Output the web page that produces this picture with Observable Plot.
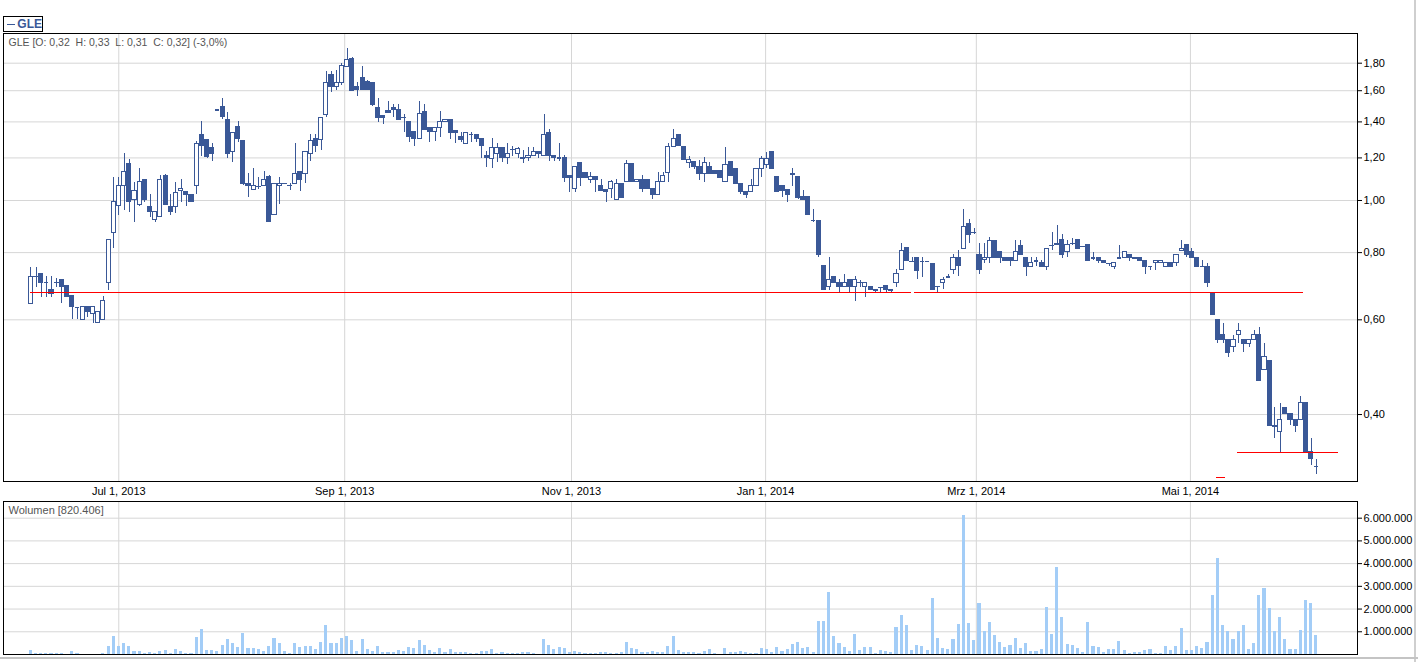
<!DOCTYPE html>
<html>
<head>
<meta charset="utf-8">
<script src="https://cdn.jsdelivr.net/npm/d3@7"></script>
<script src="https://cdn.jsdelivr.net/npm/@observablehq/plot@0.6"></script>
<style>
html, body { margin: 0; padding: 0; background: #fff; }
#root { position: relative; width: 1418px; height: 662px; overflow: hidden; font-family: "Liberation Sans", Arial, sans-serif; }
#price { position: absolute; left: 0; top: 0; }
#volume { position: absolute; left: 0; top: 498px; }
#legend { position: absolute; left: 3px; top: 16px; width: 38px; height: 14px; border: 1px solid #000; background: #fff;
  display: flex; align-items: center; font-weight: bold; font-size: 12px; color: #3a5897; }
#legend .ln { display: inline-block; width: 11px; height: 0; border-top: 1.5px solid #3a5897; margin: 0 2px 0 3px; }
#edgeR { position: absolute; left: 1414px; top: 0; width: 2px; height: 662px; background: #cfcfcf; }
#edgeB { position: absolute; left: 0; top: 657px; width: 1418px; height: 2px; background: #c4c4c4; }
svg { display: block; }
</style>
</head>
<body>
<div id="root">
  <div id="price"></div>
  <div id="volume"></div>
  <div id="legend"><span class="ln"></span><span id="legendText"></span></div>
  <div id="edgeR"></div>
  <div id="edgeB"></div>
</div>
<script>
// ---- data (one entry per trading day, Jun 2013 - Jun 2014) ----
const ticker = "GLE";
const open = [0.643,0.722,0.730,0.704,0.682,0.704,0.712,0.692,0.663,0.633,0.600,0.633,0.614,0.591,0.600,0.702,0.871,0.975,1.065,1.167,1.003,0.982,1.093,0.973,0.921,0.933,1.112,0.973,0.973,1.043,1.035,1.025,1.065,1.326,1.293,1.253,1.473,1.495,1.413,1.233,1.372,1.288,1.074,1.044,1.063,1.063,1.104,0.939,1.065,1.077,1.065,1.074,1.131,1.121,1.221,1.302,1.293,1.444,1.708,1.629,1.653,1.770,1.834,1.629,1.693,1.658,1.653,1.483,1.433,1.464,1.483,1.476,1.426,1.397,1.343,1.302,1.458,1.364,1.339,1.364,1.397,1.413,1.349,1.314,1.275,1.325,1.325,1.302,1.212,1.193,1.221,1.253,1.199,1.244,1.221,1.199,1.199,1.212,1.232,1.212,1.336,1.210,1.199,1.199,1.112,1.051,1.175,1.127,1.093,1.104,1.066,1.045,1.051,1.003,1.074,1.084,1.167,1.084,1.093,1.093,1.051,1.025,1.084,1.125,1.255,1.325,1.255,1.173,1.177,1.155,1.121,1.155,1.133,1.133,1.084,1.177,1.145,1.074,1.035,1.035,1.065,1.145,1.165,1.233,1.104,1.066,1.044,1.121,1.104,1.015,1.013,0.919,0.915,0.754,0.690,0.722,0.703,0.690,0.712,0.690,0.703,0.690,0.690,0.682,0.690,0.692,0.682,0.703,0.743,0.815,0.771,0.782,0.771,0.771,0.762,0.692,0.703,0.721,0.743,0.782,0.813,0.903,0.871,0.793,0.774,0.782,0.842,0.802,0.782,0.782,0.772,0.824,0.782,0.753,0.772,0.764,0.753,0.825,0.825,0.843,0.801,0.831,0.843,0.822,0.825,0.782,0.782,0.773,0.764,0.752,0.782,0.782,0.792,0.782,0.782,0.772,0.753,0.764,0.764,0.753,0.764,0.764,0.804,0.825,0.802,0.782,0.753,0.753,0.674,0.600,0.562,0.551,0.533,0.562,0.551,0.541,0.551,0.562,0.483,0.502,0.381,0.371,0.412,0.401,0.391,0.391,0.420,0.340,0.320];
const high = [0.751,0.752,0.730,0.722,0.722,0.716,0.712,0.692,0.663,0.633,0.633,0.633,0.633,0.620,0.663,0.843,1.105,1.105,1.221,1.193,1.078,1.145,1.093,1.025,0.953,1.112,1.118,1.025,1.078,1.093,1.035,1.025,1.288,1.404,1.293,1.275,1.473,1.550,1.455,1.336,1.402,1.288,1.121,1.147,1.105,1.133,1.115,1.074,1.104,1.077,1.077,1.275,1.131,1.233,1.326,1.326,1.426,1.737,1.737,1.745,1.800,1.913,1.847,1.660,1.775,1.673,1.653,1.547,1.433,1.527,1.508,1.508,1.446,1.397,1.343,1.527,1.508,1.364,1.364,1.464,1.413,1.413,1.349,1.339,1.336,1.336,1.325,1.302,1.233,1.302,1.275,1.253,1.275,1.262,1.253,1.240,1.253,1.253,1.232,1.446,1.355,1.210,1.277,1.212,1.112,1.155,1.175,1.127,1.127,1.104,1.093,1.045,1.091,1.093,1.074,1.185,1.167,1.093,1.112,1.093,1.051,1.127,1.127,1.275,1.353,1.325,1.255,1.206,1.177,1.187,1.202,1.177,1.133,1.133,1.255,1.177,1.145,1.074,1.035,1.093,1.145,1.206,1.229,1.233,1.104,1.066,1.044,1.147,1.104,1.044,1.013,0.961,0.915,0.754,0.782,0.722,0.712,0.730,0.712,0.722,0.710,0.703,0.690,0.682,0.690,0.692,0.682,0.744,0.832,0.815,0.782,0.782,0.782,0.771,0.762,0.692,0.720,0.730,0.795,0.809,0.961,0.921,0.886,0.831,0.831,0.853,0.842,0.802,0.782,0.782,0.843,0.842,0.782,0.782,0.782,0.773,0.813,0.871,0.899,0.865,0.843,0.851,0.843,0.822,0.825,0.800,0.782,0.773,0.764,0.764,0.825,0.801,0.792,0.782,0.782,0.772,0.753,0.772,0.772,0.764,0.764,0.792,0.843,0.825,0.813,0.782,0.773,0.764,0.674,0.600,0.591,0.551,0.562,0.591,0.551,0.551,0.572,0.581,0.541,0.502,0.413,0.420,0.412,0.401,0.391,0.432,0.420,0.361,0.330];
const low = [0.643,0.689,0.661,0.661,0.661,0.689,0.643,0.661,0.600,0.600,0.600,0.606,0.591,0.591,0.600,0.680,0.813,0.939,0.958,0.951,0.912,0.975,0.993,0.931,0.912,0.933,0.982,0.938,0.945,0.993,0.973,0.994,1.025,1.205,1.195,1.183,1.473,1.413,1.195,1.175,1.284,1.066,1.012,1.044,1.048,1.063,0.912,0.939,0.982,1.077,1.043,1.074,1.041,1.074,1.183,1.230,1.239,1.429,1.590,1.601,1.638,1.770,1.601,1.560,1.606,1.606,1.495,1.397,1.385,1.453,1.429,1.410,1.339,1.284,1.262,1.302,1.353,1.284,1.289,1.311,1.397,1.298,1.275,1.284,1.275,1.284,1.284,1.197,1.153,1.145,1.175,1.175,1.167,1.208,1.199,1.173,1.183,1.212,1.199,1.212,1.182,1.182,1.182,1.081,1.035,1.036,1.062,1.101,1.074,1.035,1.041,0.993,1.010,1.003,1.010,1.084,1.084,1.084,1.035,1.051,1.003,1.025,1.084,1.081,1.255,1.264,1.191,1.145,1.143,1.090,1.081,1.121,1.121,1.101,1.084,1.109,1.074,1.025,1.010,1.035,1.065,1.103,1.145,1.145,1.035,1.012,0.993,1.063,1.003,1.003,0.939,0.912,0.782,0.681,0.681,0.702,0.671,0.690,0.671,0.650,0.690,0.661,0.682,0.671,0.671,0.671,0.671,0.690,0.743,0.771,0.771,0.712,0.720,0.771,0.681,0.671,0.682,0.721,0.730,0.721,0.813,0.831,0.865,0.728,0.764,0.764,0.782,0.764,0.772,0.753,0.772,0.792,0.721,0.753,0.753,0.753,0.741,0.807,0.825,0.781,0.782,0.825,0.813,0.822,0.771,0.773,0.764,0.764,0.754,0.743,0.782,0.782,0.771,0.782,0.772,0.730,0.741,0.741,0.764,0.753,0.753,0.753,0.804,0.782,0.782,0.753,0.753,0.690,0.612,0.541,0.541,0.511,0.521,0.541,0.521,0.533,0.551,0.462,0.483,0.381,0.361,0.340,0.401,0.381,0.371,0.391,0.340,0.321,0.310];
const close = [0.721,0.722,0.702,0.704,0.671,0.704,0.690,0.661,0.633,0.633,0.633,0.620,0.633,0.620,0.651,0.843,0.994,1.065,1.131,0.995,1.043,1.084,1.003,0.951,0.953,1.093,0.982,0.951,1.032,1.050,1.025,0.994,1.275,1.264,1.205,1.221,1.473,1.429,1.221,1.336,1.300,1.074,1.063,1.063,1.063,1.093,0.912,1.074,1.074,1.077,1.065,1.121,1.093,1.233,1.288,1.262,1.426,1.653,1.629,1.653,1.775,1.826,1.601,1.606,1.606,1.606,1.504,1.426,1.426,1.453,1.473,1.410,1.426,1.311,1.302,1.446,1.353,1.339,1.364,1.397,1.413,1.336,1.336,1.298,1.336,1.325,1.302,1.262,1.199,1.253,1.253,1.199,1.221,1.244,1.244,1.199,1.212,1.232,1.221,1.325,1.210,1.199,1.199,1.103,1.103,1.155,1.101,1.101,1.104,1.090,1.041,1.035,1.084,1.074,1.010,1.167,1.084,1.093,1.051,1.051,1.025,1.084,1.112,1.255,1.302,1.264,1.191,1.191,1.155,1.121,1.175,1.121,1.121,1.101,1.165,1.109,1.074,1.035,1.025,1.065,1.145,1.195,1.195,1.145,1.035,1.041,1.025,1.113,1.010,1.003,0.939,0.919,0.791,0.681,0.712,0.702,0.690,0.703,0.690,0.712,0.703,0.703,0.682,0.682,0.690,0.682,0.682,0.730,0.804,0.771,0.771,0.741,0.771,0.771,0.681,0.692,0.712,0.721,0.782,0.754,0.894,0.862,0.871,0.742,0.782,0.842,0.782,0.782,0.772,0.772,0.802,0.792,0.753,0.764,0.772,0.753,0.813,0.825,0.831,0.792,0.825,0.831,0.813,0.822,0.771,0.782,0.771,0.764,0.764,0.764,0.782,0.801,0.782,0.782,0.772,0.753,0.753,0.772,0.772,0.764,0.753,0.792,0.813,0.793,0.782,0.753,0.753,0.703,0.612,0.551,0.551,0.521,0.551,0.572,0.541,0.551,0.562,0.462,0.512,0.381,0.381,0.391,0.401,0.391,0.381,0.420,0.340,0.330,0.320];
const volume = [190000,60000,60000,60000,60000,60000,60000,20000,150000,60000,20000,20000,20000,20000,60000,370000,800000,370000,500000,370000,150000,150000,60000,100000,60000,150000,190000,60000,230000,150000,60000,60000,760000,1110000,190000,190000,150000,410000,670000,500000,320000,940000,280000,280000,230000,150000,370000,720000,500000,150000,60000,500000,320000,370000,370000,230000,540000,1290000,500000,500000,720000,800000,630000,150000,670000,230000,150000,370000,100000,100000,100000,190000,150000,320000,280000,630000,410000,190000,100000,280000,100000,230000,100000,100000,100000,60000,60000,150000,150000,230000,60000,100000,60000,60000,60000,100000,100000,60000,20000,670000,410000,230000,320000,280000,100000,150000,100000,60000,60000,60000,100000,100000,60000,60000,100000,540000,280000,230000,100000,100000,150000,100000,100000,370000,800000,190000,100000,100000,100000,60000,150000,230000,60000,20000,280000,100000,100000,150000,100000,60000,60000,280000,230000,100000,320000,150000,230000,450000,540000,280000,320000,100000,1460000,1460000,2740000,800000,500000,320000,150000,890000,190000,320000,320000,60000,190000,150000,100000,1200000,1730000,1290000,190000,410000,370000,190000,2470000,720000,280000,230000,670000,1330000,6100000,1380000,630000,2250000,1020000,1420000,850000,540000,320000,410000,720000,280000,500000,150000,150000,230000,2080000,890000,3840000,1640000,450000,410000,280000,100000,1420000,370000,320000,100000,230000,230000,590000,190000,60000,100000,100000,190000,230000,60000,60000,370000,190000,370000,1160000,190000,190000,370000,280000,540000,2610000,4230000,1290000,1020000,670000,1020000,1290000,230000,500000,2610000,2910000,2040000,1020000,1640000,670000,230000,230000,1070000,2390000,2250000,820406];

// month-start positions on the trading-day axis and their labels
const monthTicks = [16.97, 60.55, 104.3, 141.75, 182.4, 223.7];
const monthLabels = ["Jul 1, 2013", "Sep 1, 2013", "Nov 1, 2013", "Jan 1, 2014", "Mrz 1, 2014", "Mai 1, 2014"];
const priceTicks = [0.4, 0.6, 0.8, 1.0, 1.2, 1.4, 1.6, 1.8];
const volumeTicks = [1e6, 2e6, 3e6, 4e6, 5e6, 6e6];

// red horizontal support lines (trading-day span and price)
const lineFrom = [0, 170.4, 232.7, 228.7];
const lineTo = [169.9, 245.6, 252.2, 230.4];
const linePrice = [0.675, 0.675, 0.340, 0.306];

// ---- build ----
const blue = "#3a5897";
const grid = "#d6d6d6";
const fontFamily = "'Liberation Sans', Arial, sans-serif";
const xDomain = [-5.27, 255.93];

const candles = open.map((o, i) => ({i, o, h: high[i], l: low[i], c: close[i], v: volume[i]}));
const up = candles.filter(d => d.c > d.o);
const down = candles.filter(d => d.c < d.o);
const flat = candles.filter(d => d.c === d.o);
const redLines = linePrice.map((p, k) => ({from: lineFrom[k], to: lineTo[k], p}));

const comma = v => v.toFixed(2).replace(".", ",");
const dots = v => d3.format(",")(v).replace(/,/g, ".");
const labelOf = new Map(monthTicks.map((t, k) => [t, monthLabels[k]]));

const n = close.length;
const chg = (close[n - 1] / close[n - 2] - 1) * 100;
const sp = "\u00a0\u00a0";
const header = `${ticker} [O: ${comma(open[n-1])}${sp}H: ${comma(high[n-1])}${sp}L: ${comma(low[n-1])}${sp}C: ${comma(close[n-1])}] (${chg.toFixed(1).replace(".", ",")}%)`;
const volHeader = `Wolumen [${dots(volume[n-1])}]`;
document.getElementById("legendText").textContent = ticker;

const pricePlot = Plot.plot({
  width: 1418, height: 498,
  marginLeft: 3, marginRight: 61, marginTop: 33, marginBottom: 17,
  style: {fontFamily, fontSize: "11px", color: "#000", background: "transparent"},
  x: {type: "linear", domain: xDomain, label: null},
  y: {type: "log", domain: [0.3003, 2.044], label: null},
  marks: [
    Plot.gridY(priceTicks, {stroke: grid, strokeOpacity: 1}),
    Plot.gridX(monthTicks, {stroke: grid, strokeOpacity: 1}),
    Plot.ruleX(candles, {x: "i", y1: "l", y2: "h", stroke: blue, strokeWidth: 1, shapeRendering: "crispEdges"}),
    Plot.rect(down, {x1: d => d.i - 0.4, x2: d => d.i + 0.4, y1: "o", y2: "c", fill: blue, stroke: blue, shapeRendering: "crispEdges"}),
    Plot.rect(up, {x1: d => d.i - 0.4, x2: d => d.i + 0.4, y1: "o", y2: "c", fill: "white", stroke: blue, shapeRendering: "crispEdges"}),
    Plot.ruleY(flat, {y: "o", x1: d => d.i - 0.45, x2: d => d.i + 0.45, stroke: blue, strokeWidth: 1.3, shapeRendering: "crispEdges"}),
    Plot.ruleY(redLines, {y: "p", x1: "from", x2: "to", stroke: "#ff0000", shapeRendering: "crispEdges"}),
    Plot.frame({stroke: "#000"}),
    Plot.axisY(priceTicks, {anchor: "right", label: null, tickSize: 4, tickPadding: 2, tickFormat: comma, stroke: "#000", fill: "#000", fontSize: 11}),
    Plot.axisX(monthTicks, {anchor: "bottom", label: null, tickSize: 0, tickPadding: 6, tickFormat: d => labelOf.get(d), fill: "#000", fontSize: 11}),
    Plot.text([header], {frameAnchor: "top-left", dx: 5, dy: 5, fill: "#555", fontSize: 10.5})
  ]
});
document.getElementById("price").append(pricePlot);

const volPlot = Plot.plot({
  width: 1418, height: 164,
  marginLeft: 3, marginRight: 61, marginTop: 3, marginBottom: 8,
  style: {fontFamily, fontSize: "11px", color: "#000", background: "transparent"},
  x: {type: "linear", domain: xDomain, axis: null, label: null},
  y: {domain: [0, 6.734e6], label: null},
  marks: [
    Plot.gridY(volumeTicks, {stroke: grid, strokeOpacity: 1}),
    Plot.gridX(monthTicks, {stroke: grid, strokeOpacity: 1}),
    Plot.rect(candles, {x1: d => d.i - 0.3, x2: d => d.i + 0.3, y1: 0, y2: "v", fill: "#a3cdf7", shapeRendering: "crispEdges"}),
    Plot.frame({stroke: "#000"}),
    Plot.axisY(volumeTicks, {anchor: "right", label: null, tickSize: 4, tickPadding: 2, tickFormat: dots, stroke: "#000", fill: "#000", fontSize: 11}),
    Plot.text([volHeader], {frameAnchor: "top-left", dx: 5, dy: 5, fill: "#555", fontSize: 11})
  ]
});
document.getElementById("volume").append(volPlot);
</script>
</body>
</html>
